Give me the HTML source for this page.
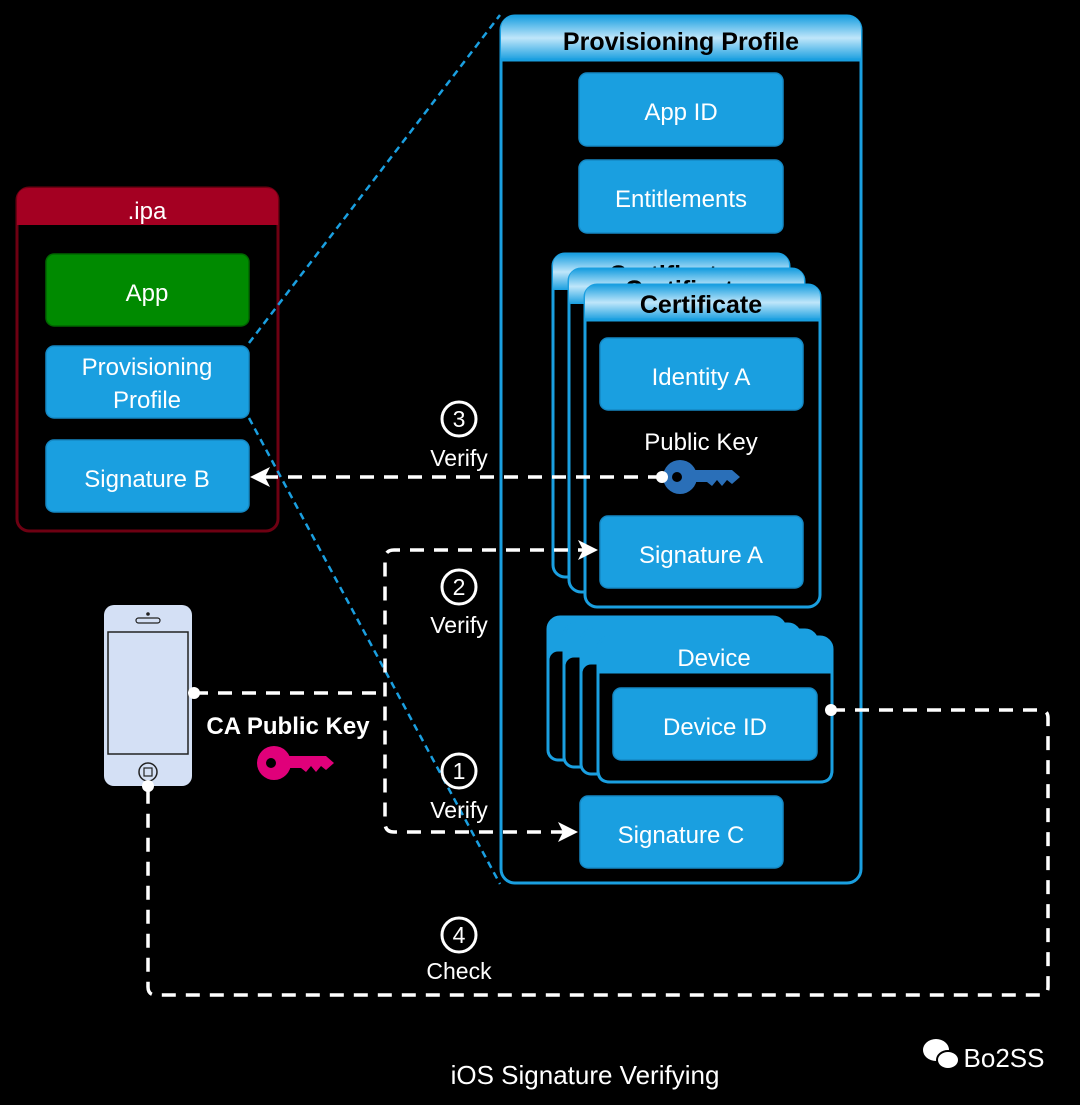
<!DOCTYPE html>
<html><head><meta charset="utf-8"><style>
html,body{margin:0;padding:0;background:#000;}
svg{display:block}
text{font-family:"Comic Sans MS","Liberation Sans","DejaVu Sans",sans-serif;}
</style></head><body>
<svg width="1080" height="1105" viewBox="0 0 1080 1105" xmlns="http://www.w3.org/2000/svg">
<defs>
<linearGradient id="hg" x1="0" y1="0" x2="0" y2="1">
<stop offset="0" stop-color="#1a9fe0"/><stop offset="0.5" stop-color="#bfe6fa"/><stop offset="1" stop-color="#1a9fe0"/>
</linearGradient>
</defs>
<!-- Provisioning profile -->
<rect x="501" y="16" width="360" height="867" rx="14" fill="#000" stroke="#1a9fe0" stroke-width="3"/>
<path d="M501,60 V30 Q501,16 515,16 H847 Q861,16 861,30 V60 Z" fill="url(#hg)"/>
<line x1="501" y1="60" x2="861" y2="60" stroke="#1a9fe0" stroke-width="3"/>
<text x="681" y="50" text-anchor="middle" font-size="25" font-weight="bold" fill="#000">Provisioning Profile</text>
<g fill="#1a9fe0" stroke="#1588c4" stroke-width="1.5">
<rect x="579" y="73" width="204" height="73" rx="8"/>
<rect x="579" y="160" width="204" height="73" rx="8"/>
</g>
<g fill="#fff" font-size="24" text-anchor="middle">
<text x="681" y="120">App ID</text>
<text x="681" y="207">Entitlements</text>
</g>
<!-- certificate stack -->
<g stroke="#1a9fe0" stroke-width="3">
<rect x="553" y="254" width="236" height="323" rx="12" fill="#000"/>
<path d="M553,290 V266 Q553,254 565,254 H777 Q789,254 789,266 V290 Z" fill="url(#hg)" stroke="none"/>
</g>
<text x="670" y="283" text-anchor="middle" font-size="25" font-weight="bold" fill="#000">Certificate</text>
<g stroke="#1a9fe0" stroke-width="3">
<rect x="569" y="269" width="235" height="323" rx="12" fill="#000"/>
<path d="M569,304 V281 Q569,269 581,269 H792 Q804,269 804,281 V304 Z" fill="url(#hg)" stroke="none"/>
</g>
<text x="686" y="298" text-anchor="middle" font-size="25" font-weight="bold" fill="#000">Certificate</text>
<g stroke="#1a9fe0" stroke-width="3">
<rect x="585" y="285" width="235" height="322" rx="12" fill="#000"/>
<path d="M585,320 V297 Q585,285 597,285 H808 Q820,285 820,297 V320 Z" fill="url(#hg)" stroke="none"/>
<line x1="585" y1="320" x2="820" y2="320"/>
</g>
<text x="701" y="313" text-anchor="middle" font-size="25" font-weight="bold" fill="#000">Certificate</text>
<g fill="#1a9fe0" stroke="#1588c4" stroke-width="1.5">
<rect x="600" y="338" width="203" height="72" rx="8"/>
<rect x="600" y="516" width="203" height="72" rx="8"/>
</g>
<g fill="#fff" font-size="24" text-anchor="middle">
<text x="701" y="385">Identity A</text>
<text x="701" y="450">Public Key</text>
<text x="701" y="563">Signature A</text>
</g>
<!-- blue key -->
<g fill="#2a6fb8">
<circle cx="680" cy="477" r="17"/>
<path d="M690,470 H732 L740,477 L732,484 L727,480 L722,486 L717,480 L712,486 L707,482 H690 Z"/>
</g>
<circle cx="677" cy="477" r="5" fill="#000"/>
<!-- device stack -->
<g stroke="#1a9fe0" stroke-width="3">
<rect x="548" y="617" width="237" height="143" rx="12" fill="#1a9fe0"/>
<rect x="548" y="650" width="237" height="110" rx="10" fill="#000"/>
<rect x="564" y="624" width="236" height="143" rx="12" fill="#1a9fe0"/>
<rect x="564" y="656" width="236" height="111" rx="10" fill="#000"/>
<rect x="581" y="630" width="236" height="144" rx="12" fill="#1a9fe0"/>
<rect x="581" y="663" width="236" height="111" rx="10" fill="#000"/>
<rect x="598" y="637" width="234" height="145" rx="12" fill="#1a9fe0"/>
<path d="M598,672 H832 V770 Q832,782 820,782 H610 Q598,782 598,770 Z" fill="#000"/>
</g>
<text x="714" y="666" text-anchor="middle" font-size="24" fill="#fff">Device</text>
<rect x="613" y="688" width="204" height="72" rx="8" fill="#1a9fe0" stroke="#1588c4" stroke-width="1.5"/>
<text x="715" y="735" text-anchor="middle" font-size="24" fill="#fff">Device ID</text>
<rect x="580" y="796" width="203" height="72" rx="8" fill="#1a9fe0" stroke="#1588c4" stroke-width="1.5"/>
<text x="681" y="843" text-anchor="middle" font-size="24" fill="#fff">Signature C</text>
<!-- ipa -->
<rect x="17" y="188" width="261" height="343" rx="12" fill="#000" stroke="#6e0012" stroke-width="3"/>
<path d="M17,225 V200 Q17,188 29,188 H266 Q278,188 278,200 V225 Z" fill="#a40022"/>
<text x="147" y="219" text-anchor="middle" font-size="24" fill="#fff">.ipa</text>
<rect x="46" y="254" width="203" height="72" rx="8" fill="#008a00" stroke="#006600" stroke-width="1.5"/>
<rect x="46" y="346" width="203" height="72" rx="8" fill="#1a9fe0" stroke="#1588c4" stroke-width="1.5"/>
<rect x="46" y="440" width="203" height="72" rx="8" fill="#1a9fe0" stroke="#1588c4" stroke-width="1.5"/>
<g fill="#fff" font-size="24" text-anchor="middle">
<text x="147" y="375">Provisioning</text>
<text x="147" y="408">Profile</text>
<text x="147" y="301">App</text>
<text x="147" y="487">Signature B</text>
</g>
<g stroke="#1a9fe0" stroke-width="2.5" stroke-dasharray="7,5" fill="none">
<line x1="249" y1="343" x2="500" y2="15"/>
<line x1="249" y1="418" x2="500" y2="884"/>
</g>
<!-- phone -->
<rect x="104" y="605" width="88" height="181" rx="10" fill="#d4e0f5"/>
<rect x="108" y="632" width="80" height="122" fill="#d4e0f5" stroke="#222" stroke-width="1.5"/>
<circle cx="148" cy="614" r="1.8" fill="#222"/>
<rect x="136" y="618" width="24" height="5" rx="2.5" fill="none" stroke="#222" stroke-width="1.2"/>
<circle cx="148" cy="772" r="9" fill="none" stroke="#222" stroke-width="1.5"/>
<rect x="144" y="768" width="8" height="8" fill="none" stroke="#222" stroke-width="1.2"/>
<text x="288" y="734" text-anchor="middle" font-size="24" font-weight="bold" fill="#fff">CA Public Key</text>
<g fill="#e0007a">
<circle cx="274" cy="763" r="17"/>
<path d="M285,756 H326 L334,763 L326,770 L321,766 L316,772 L311,766 L306,772 L301,768 H285 Z"/>
</g>
<circle cx="271" cy="763" r="5" fill="#000"/>
<!-- dashed connectors -->
<g stroke="#fff" stroke-width="3.5" stroke-dasharray="14,10" fill="none">
<line x1="662" y1="477" x2="264" y2="477"/>
<path d="M194,693 H385"/>
<path d="M592,550 H394 Q385,550 385,559 V823 Q385,832 394,832 H572" />
<path d="M831,710 H1040 Q1048,710 1048,718 V987 Q1048,995 1040,995 H156 Q148,995 148,987 V786"/>
</g>
<g fill="#fff">
<path d="M598,550 L578,540 L583,550 L578,560 Z"/>
<path d="M578,832 L558,822 L563,832 L558,842 Z"/>
<path d="M250,477 L270,467 L265,477 L270,487 Z"/>
<circle cx="662" cy="477" r="6"/>
<circle cx="194" cy="693" r="6"/>
<circle cx="831" cy="710" r="6"/>
<circle cx="148" cy="786" r="6"/>
</g>
<!-- numbers -->
<g fill="none" stroke="#fff" stroke-width="3">
<circle cx="459" cy="419" r="17"/>
<circle cx="459" cy="587" r="17"/>
<circle cx="459" cy="771" r="17"/>
<circle cx="459" cy="935" r="17"/>
</g>
<g fill="#fff" font-size="23" text-anchor="middle">
<text x="459" y="427">3</text>
<text x="459" y="595">2</text>
<text x="459" y="779">1</text>
<text x="459" y="943">4</text>
<text x="459" y="466">Verify</text>
<text x="459" y="633">Verify</text>
<text x="459" y="818">Verify</text>
<text x="459" y="979">Check</text>
<text x="585" y="1084" font-size="26">iOS Signature Verifying</text>
<text x="1004" y="1067" font-size="26">Bo2SS</text>
</g>
<g fill="#fff">
<ellipse cx="936" cy="1050" rx="13" ry="11"/>
<ellipse cx="948" cy="1060" rx="11" ry="9" stroke="#000" stroke-width="2"/>
</g>
</svg>
</body></html>
